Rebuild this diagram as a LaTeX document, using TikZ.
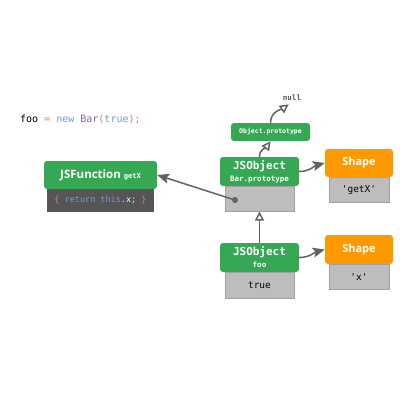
\documentclass[tikz,border=0pt]{standalone}
\usepackage{fontspec}
\newfontfamily\monofont{DejaVu Sans Mono}
\newfontfamily\sansfont{Open Sans}
\usepackage{tikz}
\usetikzlibrary{positioning}
\usetikzlibrary{arrows.meta}

\definecolor{objgreen}{HTML}{34A853}
\definecolor{shapeorange}{HTML}{FF9900}
\definecolor{bodygray}{HTML}{BDBDBD}
\definecolor{codedark}{HTML}{555555}
\definecolor{linkgray}{HTML}{5F6368}
\definecolor{kwred}{HTML}{E0787A}
\definecolor{kwblue}{HTML}{6E9BDD}
\definecolor{kwpurple}{HTML}{7E5FC4}
\definecolor{kworange}{HTML}{D9805F}

\begin{document}
\begin{tikzpicture}
		[x=1pt, y=-1pt,
		 header/.style={rectangle, rounded corners=3pt, fill=objgreen, text=white,
			inner sep=0pt, align=center},
		 shapehead/.style={header, fill=shapeorange, minimum width=68pt, minimum height=28pt,
			font=\sansfont\bfseries\fontsize{11}{12}\selectfont},
		 body/.style={rectangle, fill=bodygray, draw=bodygray!85!black, line width=0.3pt,
			inner sep=0pt, font=\monofont\fontsize{9.5}{10}\selectfont},
		 protolink/.style={draw=linkgray, line width=1.5pt,
			-{Triangle[open, length=9pt, width=9pt, line width=1.5pt]}},
		 reflink/.style={draw=linkgray, line width=1.5pt, -{Stealth[length=12pt, width=10pt, inset=2.5pt]}}]
		\useasboundingbox (0,0) rectangle (400,400);

		\node[anchor=west, font=\monofont\fontsize{10}{11}\selectfont, inner sep=0pt] (code) at (20,119)
			{foo \textcolor{kwred}{=} \textcolor{kwblue}{new} \textcolor{kwpurple}{Bar}\textcolor{kwred}{(}\textcolor{kwblue}{true}\textcolor{kwred}{);}};

		% function
		\node[header, minimum width=113pt, minimum height=28pt] (fn) at (100.5,175)
			{\sansfont\bfseries\fontsize{11.5}{12}\selectfont JSFunction \monofont\fontsize{7}{8}\selectfont getX};
		\node[body, fill=codedark, draw=codedark, minimum width=106pt, minimum height=22pt,
			below=0pt of fn, font=\monofont\fontsize{8.5}{10}\selectfont] (fnbody)
			{\textcolor{kworange}{\{} \textcolor{kwblue}{return this}\textcolor{white!75!gray}{.}\textcolor{white}{x}\textcolor{white!75!gray}{;} \textcolor{kworange}{\}}};

		% prototype chain
		\node[font=\monofont\bfseries\fontsize{7.5}{8}\selectfont, text=codedark, inner sep=1pt] (null) at (292,98) {null};
		\node[header, minimum width=79pt, minimum height=18pt, font=\monofont\bfseries\fontsize{6.5}{8}\selectfont]
			(objproto) at (270.5,132) {Object.prototype};
		\node[header, minimum width=79pt, minimum height=29pt] (proto) at (259.5,171.5)
			{\monofont\bfseries\fontsize{11}{11}\selectfont JSObject\\\monofont\bfseries\fontsize{7.5}{8}\selectfont Bar.prototype};
		\node[body, minimum width=69pt, minimum height=25pt, below=0pt of proto] (protobody) {};
		\node[circle, fill=linkgray, inner sep=0pt, minimum size=6pt] (dot) at (235,200) {};

		\node[header, minimum width=79pt, minimum height=29pt] (foo) at (259.5,257.5)
			{\monofont\bfseries\fontsize{11}{11}\selectfont JSObject\\\monofont\bfseries\fontsize{7.5}{8}\selectfont foo};
		\node[body, minimum width=69pt, minimum height=26pt, below=0pt of foo] (foobody) {true};

		% shapes
		\node[shapehead] (shapegetx) at (359,163) {Shape};
		\node[body, minimum width=60pt, minimum height=25pt, below=0pt of shapegetx] (shapegetxbody) {'getX'};
		\node[shapehead, minimum height=29pt] (shapex) at (359,249.5) {Shape};
		\node[body, minimum width=60pt, minimum height=25pt, below=0pt of shapex] (shapexbody) {'x'};

		\draw[protolink, shorten >=4pt] (objproto.north) to[out=90, in=215] (null.south);
		\draw[protolink] (proto.north) to[out=90, in=235] (objproto.south);
		\draw[protolink] (foo.north) -- (protobody.south);
		\draw[reflink] (dot.center) -- (fn.east);
		\draw[reflink] (proto.east) to[out=0, in=195] (shapegetx.west);
		\draw[reflink] (foo.east) to[out=0, in=195] (shapex.west);
	\end{tikzpicture}
\end{document}
